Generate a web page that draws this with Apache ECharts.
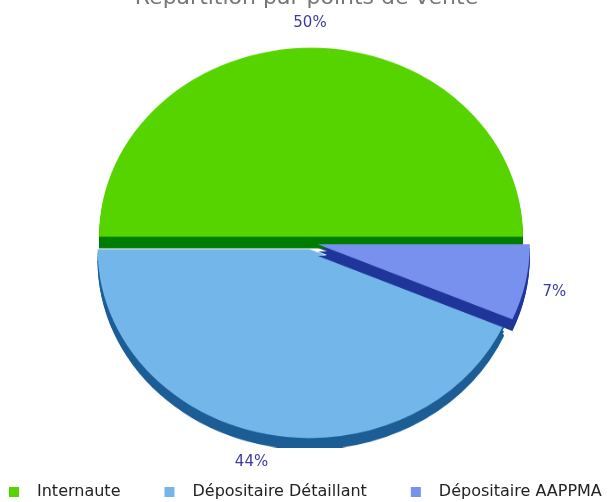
<!DOCTYPE html>
<html>
<head>
<meta charset="utf-8">
<script src="https://cdn.jsdelivr.net/npm/echarts@6/dist/echarts.min.js"></script>
<style>
  html, body { margin: 0; padding: 0; background: #fff; }
  #wrap { position: relative; width: 613px; height: 502px; overflow: hidden; }
  /* the pie is flattened into an ellipse, labels and legend stay unscaled */
  #pie { position: absolute; left: 0; top: 0; width: 613px; height: 502px; transform: scaleY(0.8915); transform-origin: 0 0; }
  #over { position: absolute; left: 0; top: 0; width: 613px; height: 502px; }
</style>
</head>
<body>
<div id="wrap"><div id="pie"></div><div id="over"></div></div>
<script>
const categories = ['Internaute', 'Dépositaire Détaillant', 'Dépositaire AAPPMA'];
const shares = [50, 43.5, 6.5];

const faceColors = ['#55d400', '#72b6ea', '#7890ee'];
const sideColors = ['#007c00', '#1b5d94', '#1f3599'];
const labelColor = '#3c3ca0';
const font = 'DejaVu Sans';

const squash = 0.8915;
const cx = 311, cy = 243, rx = 212;
const depth = 13;
const depthSteps = [4, 8, 12];
const labelShift = [[4, 1], [7, 3], [10, 4]];

// one pie series per layer: dark layers for the thickness, then the top faces
function pieLayer(offsetY, colors, withShadow) {
  return {
    type: 'pie',
    center: [cx, cy / squash + offsetY],
    radius: rx,
    startAngle: 0,
    clockwise: false,
    silent: true,
    avoidLabelOverlap: false,
    selectedMode: 'multiple',
    selectedOffset: 7,
    label: { show: false },
    labelLine: { show: false },
    itemStyle: { borderWidth: 0 },
    select: { itemStyle: { borderWidth: 0 } },
    data: categories.map((name, i) => ({
      name,
      value: shares[i],
      selected: true,
      itemStyle: withShadow
        ? { color: colors[i], shadowColor: sideColors[i], shadowOffsetY: depth, shadowBlur: 0 }
        : { color: colors[i] }
    }))
  };
}

const pieChart = echarts.init(document.getElementById('pie'));
pieChart.setOption({
  animation: false,
  series: depthSteps.slice().reverse().map(k => pieLayer(k, sideColors, false))
    .concat([pieLayer(0, faceColors, true)])
});

const overChart = echarts.init(document.getElementById('over'));
overChart.setOption({
  animation: false,
  title: {
    text: 'Répartition par points de vente',
    left: 'center',
    top: -18,
    textStyle: { fontFamily: font, fontSize: 22, fontWeight: 'normal', color: '#777' }
  },
  legend: {
    left: 9,
    top: 484,
    padding: 0,
    icon: 'rect',
    itemWidth: 10,
    itemHeight: 10,
    itemGap: 44,
    itemStyle: { opacity: 1 },
    formatter: name => `{n|${name}}`,
    textStyle: {
      fontFamily: font, fontSize: 16, color: '#222',
      rich: { n: { fontFamily: font, fontSize: 16, color: '#222', padding: [0, 0, 0, 13] } }
    }
  },
  series: [{
    type: 'pie',
    center: [cx, cy],
    radius: rx,
    startAngle: 0,
    clockwise: false,
    silent: true,
    avoidLabelOverlap: false,
    itemStyle: { opacity: 0 },
    label: {
      position: 'outside',
      opacity: 1,
      fontFamily: font,
      fontSize: 15,
      color: labelColor,
      distanceToLabelLine: 5,
      formatter: p => Math.round(p.percent) + '%'
    },
    labelLine: { show: false, length: 9, length2: 0 },
    labelLayout: p => {
      const s = labelShift[p.dataIndex];
      return p.dataIndex === 0 ? { align: 'center', dx: s[0], dy: s[1] } : { dx: s[0], dy: s[1] };
    },
    data: categories.map((name, i) => ({ name, value: shares[i], itemStyle: { color: faceColors[i] } }))
  }]
});
</script>
</body>
</html>
